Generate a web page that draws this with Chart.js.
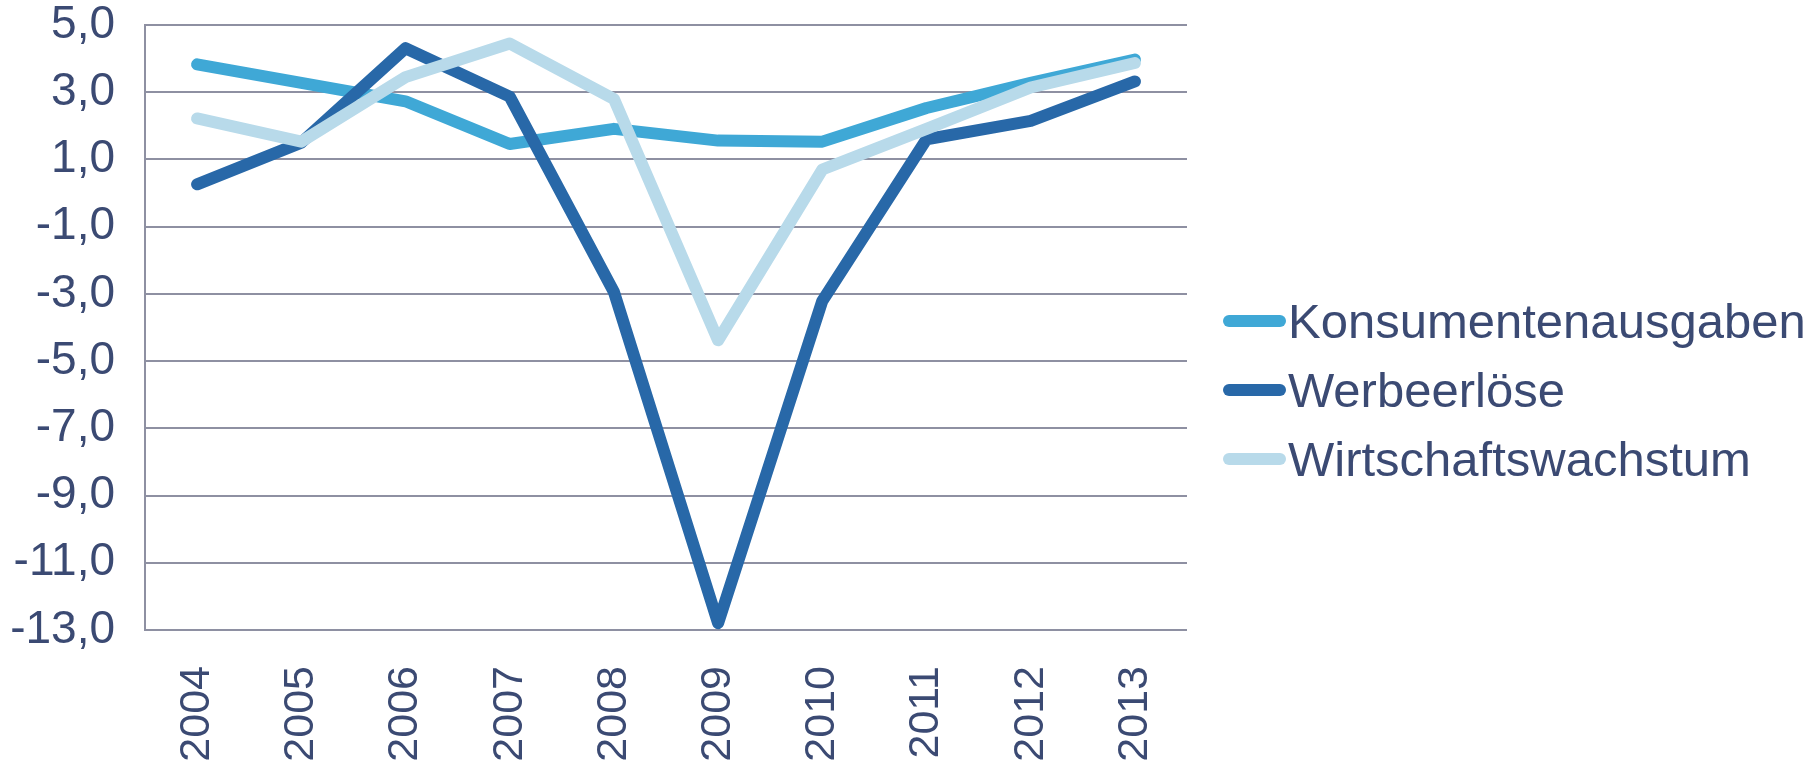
<!DOCTYPE html>
<html>
<head>
<meta charset="utf-8">
<script src="https://cdn.jsdelivr.net/npm/chart.js@4.4.0/dist/chart.umd.min.js"></script>
<style>
  html, body { margin: 0; padding: 0; background: #fff; }
  #wrap { position: relative; width: 1810px; height: 768px; }
  #legend { position: absolute; left: 0; top: 0; }
  .item { position: absolute; left: 1223px; height: 60px; display: flex; align-items: center;
          font-family: "Liberation Sans", Arial, sans-serif; font-size: 49px; color: #3b4a73; white-space: nowrap; }
  .swatch { width: 63px; height: 12px; border-radius: 6px; margin-right: 2px; }
</style>
</head>
<body>
<div id="wrap">
  <canvas id="myChart" width="1810" height="768"></canvas>
  <div id="legend"></div>
</div>
<script>
var jahre = ["2004", "2005", "2006", "2007", "2008", "2009", "2010", "2011", "2012", "2013"];
var konsumentenausgaben = [3.83, 3.28, 2.73, 1.46, 1.91, 1.56, 1.53, 2.53, 3.28, 3.97];
var werbeerloese = [0.26, 1.5, 4.31, 2.87, -2.94, -12.8, -3.21, 1.6, 2.15, 3.32];
var wirtschaftswachstum = [2.22, 1.53, 3.45, 4.45, 2.8, -4.38, 0.7, 1.91, 3.14, 3.87];
var yTicks = [5, 3, 1, -1, -3, -5, -7, -9, -11, -13];

var namen = ["Konsumentenausgaben", "Werbeerlöse", "Wirtschaftswachstum"];
var farben = ["#3fa8d6", "#2868a8", "#b8daea"];
var textFarbe = "#3b4a73";
var gitterFarbe = "#8e90a2";

var ctx = document.getElementById("myChart");

function serie(i, werte, order) {
  return {
    label: namen[i],
    data: werte,
    borderColor: farben[i],
    backgroundColor: farben[i],
    borderWidth: 12,
    borderCapStyle: "round",
    borderJoinStyle: "round",
    pointRadius: 0,
    tension: 0,
    order: order,
  };
}

var myChart = new Chart(ctx, {
  type: "line",
  data: {
    labels: jahre,
    datasets: [
      serie(0, konsumentenausgaben, 3),
      serie(1, werbeerloese, 2),
      serie(2, wirtschaftswachstum, 1),
    ],
  },
  options: {
    responsive: false,
    animation: false,
    layout: { padding: { top: 0, right: 623, left: 0, bottom: 0 } },
    plugins: {
      legend: { display: false },
      tooltip: { enabled: false },
    },
    scales: {
      x: {
        offset: true,
        grid: { display: false, drawTicks: false },
        border: { display: false },
        ticks: {
          color: textFarbe,
          font: { family: "Liberation Sans", size: 43 },
          maxRotation: 90,
          minRotation: 90,
          padding: 36,
          autoSkip: false,
        },
        afterFit: function (scale) { scale.height = 138; },
      },
      y: {
        min: -13,
        max: 5,
        afterBuildTicks: function (scale) {
          scale.ticks = yTicks.map(function (v) { return { value: v }; });
        },
        grid: { color: gitterFarbe, lineWidth: 2, drawTicks: false },
        border: { display: true, color: gitterFarbe, width: 2 },
        ticks: {
          color: textFarbe,
          font: { family: "Liberation Sans", size: 46, lineHeight: 1.2 },
          padding: 30,
          callback: function (v) { return v.toFixed(1).replace(".", ","); },
        },
        afterFit: function (scale) {
          scale.width = 145;
          scale.paddingTop = 25;
          scale.paddingBottom = 0;
        },
      },
    },
  },
});

// Legende als HTML neben der Grafik
var legendY = [321, 390, 459];
var legend = document.getElementById("legend");
for (var i = 0; i < namen.length; i++) {
  var d = document.createElement("div");
  d.className = "item";
  d.style.top = (legendY[i] - 30) + "px";
  d.innerHTML = '<span class="swatch" style="background:' + farben[i] + '"></span>' + namen[i];
  legend.appendChild(d);
}
</script>
</body>
</html>
